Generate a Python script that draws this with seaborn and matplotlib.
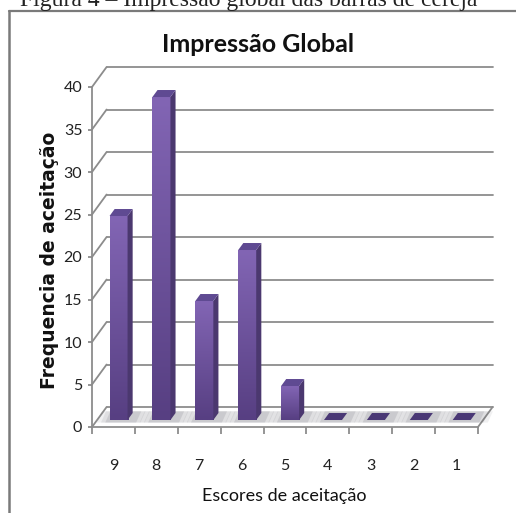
import numpy as np
import pandas as pd
import matplotlib
matplotlib.use("Agg")
import matplotlib.pyplot as plt
import seaborn as sns
from matplotlib.patches import Polygon
from matplotlib.lines import Line2D
from matplotlib.transforms import Affine2D

# data
scores = ["9", "8", "7", "6", "5", "4", "3", "2", "1"]
freq = [24, 38, 14, 20, 4, 0, 0, 0, 0]
yticks = [0, 5, 10, 15, 20, 25, 30, 35, 40]

sns.set_style("white")
plt.rcParams["font.family"] = ["Lato", "DejaVu Sans"]

# fake 3D depth (in data units): full depth offset of the back wall
DX, DY = 0.34, 2.35
D0, D1 = 0.35, 0.70  # bar front / back depth
grid_c = "#8c8c8c"
top_c, bot_c = "#8265b4", "#573f82"
side_c, roof_c = "#4b386f", "#5f4a92"

fig = plt.figure(figsize=(5.16, 5.13), dpi=100)
ax = fig.add_axes([92 / 516, 86 / 513, 386 / 516, 340 / 513])

df = pd.DataFrame({"score": scores, "freq": freq})
sns.barplot(data=df, x="score", y="freq", order=scores, color=top_c,
            saturation=1, width=0.42, ax=ax, zorder=3)

# back wall grid lines + left wall connectors + floor
for v in yticks:
    ax.plot([-0.5 + DX, 8.5 + DX], [v + DY, v + DY], color=grid_c, lw=1.3,
            clip_on=False, zorder=1)
    ax.plot([-0.5, -0.5 + DX], [v, v + DY], color=grid_c, lw=1.3,
            clip_on=False, zorder=1)
ax.plot([8.5, 8.5 + DX], [0, DY], color=grid_c, lw=1.3, clip_on=False, zorder=1)

grad = np.linspace(1, 0, 100).reshape(-1, 1)
cmap = matplotlib.colors.LinearSegmentedColormap.from_list("p", [bot_c, top_c])
shift = Affine2D().translate(D0 * DX, D0 * DY)
dd = D1 - D0
for p, v in zip(ax.patches, freq):
    p.set_transform(shift + ax.transData)
    p.set_edgecolor("none")
    x0 = p.get_x() + D0 * DX
    x1 = x0 + p.get_width()
    b = D0 * DY
    t = b + v
    # soft floor shadow
    for k, a in zip([0.30, 0.20, 0.10], [0.10, 0.13, 0.18]):
        ax.add_patch(Polygon([(x0 - k, b - 0.3), (x1 + k + 0.1, b - 0.3),
                              (x1 + k + 0.1 + dd * DX, b + dd * DY + 0.2),
                              (x0 - k + dd * DX, b + dd * DY + 0.2)],
                             closed=True, fc="#6f6f78", ec="none", alpha=a,
                             zorder=2, clip_on=False))
    if v > 0:
        im = ax.imshow(grad, extent=[x0, x1, b, t], cmap=cmap, aspect="auto",
                       zorder=3.1, interpolation="bilinear")
        im.set_clip_path(p)
        ax.add_patch(Polygon([(x1, b), (x1 + dd * DX, b + dd * DY),
                              (x1 + dd * DX, t + dd * DY), (x1, t)],
                             closed=True, fc=side_c, ec="none", zorder=3.2,
                             clip_on=False))
    ax.add_patch(Polygon([(x0, t), (x1, t), (x1 + dd * DX, t + dd * DY),
                          (x0 + dd * DX, t + dd * DY)],
                         closed=True, fc=roof_c if v > 0 else "#4a3875",
                         ec="none", zorder=3.3, clip_on=False))

ax.set_xlim(-0.5, 8.5)
ax.set_ylim(0, 40)
ax.set_yticks(yticks)
ax.set_xticks(range(len(scores)))
ax.set_xticklabels(scores)
ax.set_xticks(np.arange(-0.5, 9, 1), minor=True)
ax.tick_params(axis="x", which="major", length=0, pad=23, labelsize=11.5,
               labelcolor="#222222")
ax.tick_params(axis="x", which="minor", length=5, width=1.3, color=grid_c,
               direction="out", bottom=True)
ax.tick_params(axis="y", length=3, width=1.3, color=grid_c, left=True,
               pad=4, labelsize=11.5, labelcolor="#222222")
for s in ["top", "right"]:
    ax.spines[s].set_visible(False)
for s in ["left", "bottom"]:
    ax.spines[s].set_color(grid_c)
    ax.spines[s].set_linewidth(1.3)
ax.set_xlabel("")
ax.set_ylabel("")

fig.text(258 / 516, 1 - 45 / 513, "Impressão Global", ha="center", va="center",
         fontsize=18, fontweight="bold", color="#111111")
fig.text(284 / 516, 1 - 496 / 513, "Escores de aceitação", ha="center",
         va="center", fontsize=13, color="#111111")
fig.text(50 / 516, 1 - 260 / 513, "Frequencia de aceitação", ha="center",
         va="center", rotation=90, fontsize=13.5, fontweight="bold",
         family="DejaVu Sans", color="#111111")

# cut-off caption above the frame
fig.text(20 / 516, 1 - 6 / 513, "Figura 4 – Impressão global das barras de cereja",
         ha="left", va="baseline", fontsize=17, family="Liberation Serif",
         color="#222222")

# frame
fig.add_artist(Line2D([9 / 516, 9 / 516], [0, 1 - 11 / 513], color="#7a7a7a",
                      lw=1.8, transform=fig.transFigure))
fig.add_artist(Line2D([9 / 516, 1], [1 - 11 / 513, 1 - 11 / 513],
                      color="#7a7a7a", lw=1.6, transform=fig.transFigure))

fig.savefig("out.png", dpi=100)
